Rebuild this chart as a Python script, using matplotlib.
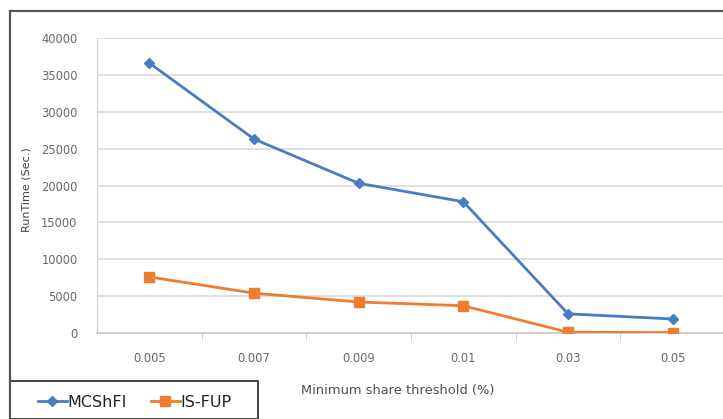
import matplotlib.pyplot as plt
from matplotlib.lines import Line2D
from matplotlib.patches import Rectangle

thresholds = ["0.005", "0.007", "0.009", "0.01", "0.03", "0.05"]
mcshfi = [36600, 26300, 20300, 17800, 2600, 1900]
is_fup = [7600, 5400, 4200, 3700, 100, 50]

W, H = 723, 419
fig = plt.figure(figsize=(W / 100, H / 100), dpi=100)
fig.patch.set_facecolor("white")

def px(x, y):
    # pixel position -> figure fraction (y measured from top)
    return x / W, 1 - y / H

# plot area
left, top = px(97, 38)
_, bottom = px(0, 333)
ax = fig.add_axes([left, bottom, 628 / W, top - bottom])

x = range(len(thresholds))
ax.plot(x, mcshfi, color="#4a7cc6", lw=2.0, marker="D", ms=5.5,
        label="MCShFI", zorder=3)
ax.plot(x, is_fup, color="#ed7d31", lw=2.0, marker="s", ms=6.8,
        label="IS-FUP", zorder=3)

ax.set_xlim(-0.5, len(thresholds) - 0.5)
ax.set_ylim(0, 40000)
ax.set_yticks(range(0, 40001, 5000))
ax.set_xticks(list(x))
ax.set_xticklabels(thresholds)
ax.set_xticks([i + 0.5 for i in x][:-1], minor=True)

ax.grid(axis="y", color="#d9d9d9", lw=1.2)
ax.set_axisbelow(True)
for s in ["top", "right"]:
    ax.spines[s].set_visible(False)
ax.spines["left"].set_color("#d0d0d0")
ax.spines["bottom"].set_color("#c8c8c8")
ax.spines["bottom"].set_linewidth(1.2)

ax.tick_params(axis="y", length=0, pad=14, labelsize=8.3, labelcolor="#6a6a6a")
ax.tick_params(axis="x", which="major", length=0, pad=14, labelsize=8.3,
               labelcolor="#6a6a6a")
ax.tick_params(axis="x", which="minor", length=5, color="#c8c8c8", direction="out")

fig.text(*px(27, 190), "RunTime (Sec.)", fontsize=8, color="#404040",
         rotation=90, ha="center", va="center")
fig.text(*px(398, 390), "Minimum share threshold (%)", fontsize=9.4,
         color="#505050", ha="center", va="center")

# outer chart border (top and left)
fig.add_artist(Line2D([px(10, 0)[0], 1], [px(0, 11)[1]] * 2,
                      color="#555555", lw=1.6, transform=fig.transFigure))
fig.add_artist(Line2D([px(10, 0)[0]] * 2, [px(0, 11)[1], 0],
                      color="#555555", lw=1.6, transform=fig.transFigure))

# legend box
lx, ly = px(10, 381)
fig.add_artist(Rectangle((lx, 0), 248 / W, ly, transform=fig.transFigure,
                         facecolor="white", edgecolor="#444444", lw=1.4))
handles, labels = ax.get_legend_handles_labels()
fig.legend(handles, labels, loc="center left",
           bbox_to_anchor=(px(30, 0)[0], px(0, 402)[1]),
           ncol=2, frameon=False, fontsize=11.5, handlelength=1.8,
           handletextpad=0.05, columnspacing=1.5, borderpad=0,
           labelcolor="#222222")

fig.savefig("out.png", dpi=100)
